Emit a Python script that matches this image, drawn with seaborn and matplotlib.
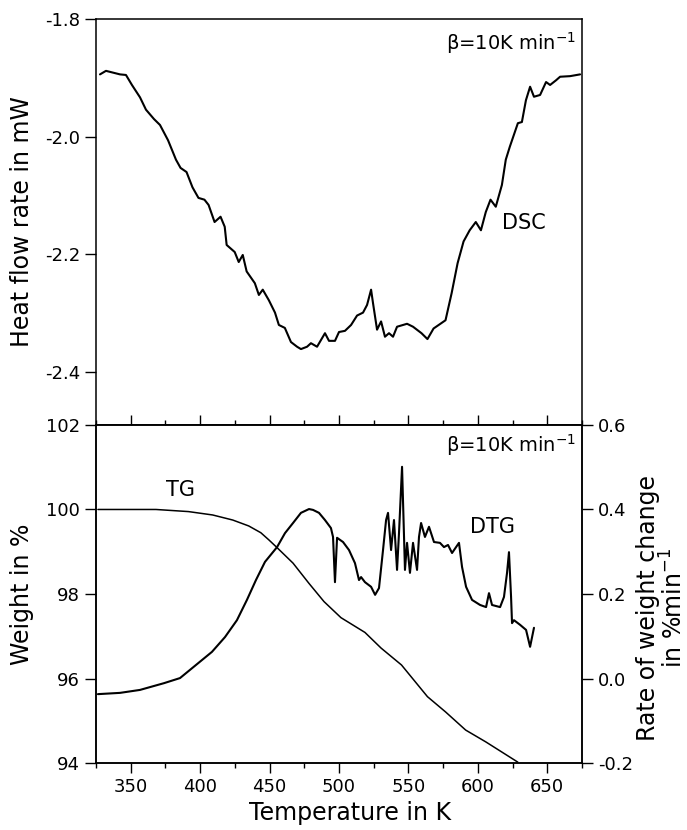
import numpy as np
import pandas as pd
import matplotlib
matplotlib.use("Agg")
import matplotlib.pyplot as plt
import seaborn as sns
from matplotlib.ticker import MultipleLocator, FormatStrFormatter

# ---- DSC (top panel) ----
dsc_T = [327.9, 332.2, 342.3, 346.6, 350.9, 356.7, 361.0, 366.8, 371.1, 376.9,
         382.6, 385.9, 390.2, 394.5, 398.8, 403.1, 406.1, 410.4, 414.7, 417.7,
         419.1, 424.9, 427.8, 430.7, 433.5, 439.4, 442.3, 445.1, 449.5, 453.9,
         456.7, 461.0, 465.4, 469.8, 472.6, 477.0, 479.8, 484.2, 489.9, 492.8,
         497.1, 500.0, 504.3, 508.7, 513.0, 517.3, 520.2, 523.1, 524.5, 527.4,
         530.3, 533.1, 536.0, 538.9, 541.8, 549.0, 553.3, 559.4, 563.7, 568.1,
         576.7, 581.1, 585.4, 589.7, 594.1, 598.5, 602.2, 605.7, 609.1, 612.9,
         617.3, 620.1, 623.0, 628.8, 631.7, 634.6, 637.6, 640.4, 644.8, 649.1,
         652.0, 656.3, 659.2, 666.4, 673.6]
dsc_hf = [-1.894, -1.888, -1.894, -1.895, -1.912, -1.933, -1.954, -1.970, -1.980, -2.006,
          -2.039, -2.053, -2.060, -2.086, -2.104, -2.107, -2.116, -2.145, -2.136, -2.153,
          -2.184, -2.196, -2.213, -2.201, -2.229, -2.249, -2.269, -2.260, -2.278, -2.299,
          -2.320, -2.325, -2.349, -2.357, -2.361, -2.357, -2.351, -2.357, -2.334, -2.347,
          -2.347, -2.332, -2.330, -2.320, -2.304, -2.299, -2.286, -2.260, -2.283, -2.328,
          -2.314, -2.340, -2.334, -2.340, -2.323, -2.318, -2.323, -2.334, -2.344, -2.326,
          -2.312, -2.266, -2.215, -2.178, -2.159, -2.145, -2.159, -2.128, -2.107, -2.119,
          -2.082, -2.039, -2.017, -1.977, -1.975, -1.938, -1.915, -1.932, -1.929, -1.907,
          -1.912, -1.904, -1.898, -1.897, -1.894]

# ---- TG (bottom panel, left axis) ----
tg_T = [326.4, 368.2, 391.6, 409.0, 423.5, 435.0, 443.7, 449.5, 455.3, 466.9,
        478.4, 489.2, 501.4, 518.7, 530.3, 545.0, 563.7, 576.7, 591.2, 605.7, 628.8]
tg_w = [100.0, 100.0, 99.95, 99.87, 99.75, 99.61, 99.45, 99.28, 99.10, 98.73,
        98.25, 97.82, 97.44, 97.09, 96.72, 96.32, 95.57, 95.21, 94.78, 94.50, 94.02]

# ---- DTG (bottom panel, right axis) ----
dtg_T = [326.4, 342.3, 356.7, 374.0, 385.5, 397.0, 408.5, 417.9, 426.5, 433.7,
         440.2, 446.7, 455.4, 461.1, 466.9, 472.6, 478.4, 481.3, 485.6, 489.9,
         494.2, 495.7, 497.1, 498.6, 502.9, 507.2, 511.5, 514.4, 515.9, 518.7,
         523.1, 526.0, 528.8, 531.7, 533.9, 535.3, 537.5, 539.6, 541.8, 543.2,
         545.4, 547.5, 549.0, 551.1, 553.3, 556.2, 557.6, 559.1, 561.9, 564.8,
         568.4, 572.7, 575.6, 578.5, 581.4, 584.3, 586.4, 588.6, 591.5, 595.8,
         601.6, 605.9, 608.0, 610.2, 616.0, 618.8, 621.0, 622.4, 623.9, 624.6,
         626.0, 630.4, 634.7, 637.6, 640.4]
dtg_r = [-0.037, -0.034, -0.027, -0.011, 0.001, 0.032, 0.063, 0.098, 0.138, 0.186,
         0.233, 0.276, 0.311, 0.344, 0.368, 0.392, 0.401, 0.399, 0.392, 0.375,
         0.356, 0.335, 0.228, 0.333, 0.323, 0.304, 0.273, 0.233, 0.240, 0.228,
         0.217, 0.198, 0.214, 0.304, 0.375, 0.392, 0.304, 0.375, 0.257, 0.344,
         0.501, 0.257, 0.321, 0.250, 0.321, 0.257, 0.335, 0.368, 0.335, 0.359,
         0.323, 0.321, 0.311, 0.316, 0.297, 0.311, 0.321, 0.264, 0.217, 0.186,
         0.174, 0.169, 0.202, 0.174, 0.169, 0.193, 0.250, 0.299, 0.193, 0.131,
         0.138, 0.127, 0.115, 0.075, 0.120]

x_ticks = [350, 400, 450, 500, 550, 600, 650]
dsc_ticks = [-1.8, -2.0, -2.2, -2.4]
w_ticks = [94, 96, 98, 100, 102]
r_ticks = [-0.2, 0.0, 0.2, 0.4, 0.6]

sns.set_style("ticks")
plt.rcParams['font.family'] = ['DejaVu Sans']
plt.rcParams['axes.unicode_minus'] = False
plt.rcParams['axes.linewidth'] = 1.1
for k in ('text.color', 'axes.labelcolor', 'xtick.color', 'ytick.color', 'axes.edgecolor'):
    plt.rcParams[k] = 'black'

fig = plt.figure(figsize=(6.87, 8.30), dpi=100)
ax1 = fig.add_axes([0.1397, 0.488, 0.7075, 0.489])
ax2 = fig.add_axes([0.1397, 0.0807, 0.7075, 0.4073])
ax3 = ax2.twinx()

sns.lineplot(x=dsc_T, y=dsc_hf, ax=ax1, color='black', lw=1.5, sort=False, estimator=None)
sns.lineplot(x=tg_T, y=tg_w, ax=ax2, color='black', lw=1.1, sort=False, estimator=None)
sns.lineplot(x=dtg_T, y=dtg_r, ax=ax3, color='black', lw=1.5, sort=False, estimator=None)

for ax in (ax1, ax2, ax3):
    for s in ax.spines.values():
        s.set_visible(True)
        s.set_linewidth(1.1)
        s.set_color('black')

# top panel
ax1.set_xlim(325, 675)
ax1.set_ylim(-2.49, -1.8)
ax1.set_yticks(dsc_ticks)
ax1.yaxis.set_major_formatter(FormatStrFormatter('%.1f'))
ax1.tick_params(axis='x', bottom=False, labelbottom=False, top=False)
ax1.tick_params(axis='y', direction='out', length=8, width=1.0, labelsize=13, colors='black')
ax1.set_xlabel('')
ax1.set_ylabel('')

# bottom panel
ax2.set_xlim(325, 675)
ax2.set_ylim(94, 102)
ax2.set_xticks(x_ticks)
ax2.xaxis.set_minor_locator(MultipleLocator(25))
ax2.set_yticks(w_ticks)
ax2.tick_params(axis='x', which='major', top=True, bottom=True, direction='out',
                length=7, width=1.0, labelsize=13)
ax2.tick_params(axis='x', which='minor', top=True, bottom=True, direction='out',
                length=3.5, width=1.0)
ax2.tick_params(axis='y', direction='out', length=8, width=1.0, labelsize=13)
ax2.set_xlabel('')
ax2.set_ylabel('')

ax3.set_ylim(-0.2, 0.6)
ax3.set_yticks(r_ticks)
ax3.yaxis.set_major_formatter(FormatStrFormatter('%.1f'))
ax3.tick_params(axis='y', direction='out', length=8, width=1.0, labelsize=13)
ax3.set_ylabel('')

# annotations
ax1.text(0.988, 0.941, r'$\mathregular{\beta}$=10K min$^{-1}$', transform=ax1.transAxes,
         ha='right', va='center', fontsize=14)
ax1.text(0.835, 0.498, 'DSC', transform=ax1.transAxes, ha='left', va='center', fontsize=15)
ax2.text(0.988, 0.941, r'$\mathregular{\beta}$=10K min$^{-1}$', transform=ax2.transAxes,
         ha='right', va='center', fontsize=14)
ax2.text(0.173, 0.808, 'TG', transform=ax2.transAxes, ha='center', va='center', fontsize=15)
ax2.text(0.770, 0.698, 'DTG', transform=ax2.transAxes, ha='left', va='center', fontsize=15)

# axis labels
fig.text(22 / 687, 1 - 222 / 830, 'Heat flow rate in mW', rotation=90,
         ha='center', va='center', fontsize=17)
fig.text(22 / 687, 1 - 594 / 830, 'Weight in %', rotation=90,
         ha='center', va='center', fontsize=17)
fig.text(662 / 687, 1 - 608 / 830, 'Rate of weight change\nin %min$^{-1}$', rotation=90,
         ha='center', va='center', fontsize=17, linespacing=1.0, multialignment='center')
fig.text(350 / 687, 1 - 813 / 830, 'Temperature in K', ha='center', va='center', fontsize=17)

fig.savefig('out.png', dpi=100)
